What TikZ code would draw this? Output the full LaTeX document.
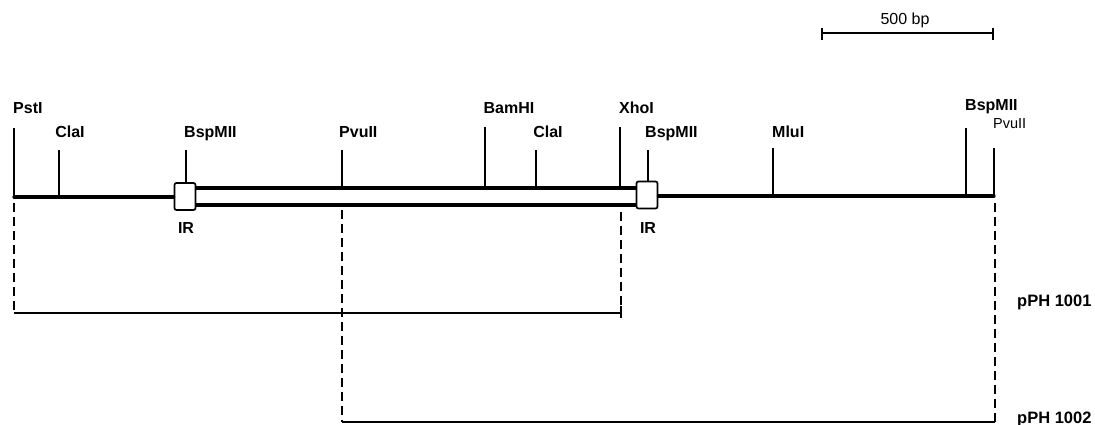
\documentclass[tikz,border=0pt]{standalone}
\usepackage{fontspec}
\setmainfont{Liberation Sans}
\begin{document}
\begin{tikzpicture}[x=1pt,y=-1pt,
  lbl/.style={font=\bfseries\fontsize{16}{18}\selectfont, inner sep=0pt},
  lbllight/.style={font=\fontsize{14.5}{16}\selectfont, inner sep=0pt},
  plbl/.style={font=\bfseries\fontsize{16.5}{18}\selectfont, inner sep=0pt, anchor=base west},
  sitetick/.style={line width=1.5pt},
  dna/.style={line width=3.2pt},
  irbox/.style={draw, line width=1.7pt, rounded corners=2pt, minimum width=21pt, minimum height=27pt, inner sep=0pt, fill=white},
  frag/.style={line width=2.2pt},
  dashline/.style={line width=1.6pt, dash pattern=on 9pt off 5pt},
  scalebar/.style={line width=2.4pt}]
\useasboundingbox (0,0) rectangle (1095,425);

% double strand between IRs
\coordinate (dtl) at (195,188);
\coordinate (dtr) at (637,188);
\coordinate (dbl) at (195,205);
\coordinate (dbr) at (637,205);
\draw[dna] (dtl) -- (dtr);
\draw[dna] (dbl) -- (dbr);

% main line and IR boxes
\coordinate (pstB) at (14,197);
\coordinate (pvuB2) at (994,196);
\node[irbox] (ir1) at (185,196.5) {};
\node[irbox] (ir2) at (647,195) {};
\draw[dna, line cap=round] (pstB) -- (ir1.west |- pstB);
\draw[dna, line cap=round] (ir2.east |- pvuB2) -- (pvuB2);

% site ticks
\coordinate (pstT) at (14,128);
\coordinate (claB) at (59,197);   \coordinate (claT) at (59,150);
\coordinate (bsp1T) at (186,150);
\coordinate (pvuB) at (342,188);  \coordinate (pvuT) at (342,150);
\coordinate (bamB) at (485,188);  \coordinate (bamT) at (485,127);
\coordinate (cla2B) at (536,188); \coordinate (cla2T) at (536,150);
\coordinate (xhoB) at (620,188);  \coordinate (xhoT) at (620,127);
\coordinate (bsp2T) at (648,150);
\coordinate (mluB) at (773,196);  \coordinate (mluT) at (773,148);
\coordinate (bsp3B) at (966,196); \coordinate (bsp3T) at (966,128);
\coordinate (pvu2T) at (994,148);

\draw[sitetick] (pstT) -- (pstB);
\draw[sitetick] (claT) -- (claB);
\draw[sitetick] (bsp1T) -- (ir1.north -| bsp1T);
\draw[sitetick] (pvuT) -- (pvuB);
\draw[sitetick] (bamT) -- (bamB);
\draw[sitetick] (cla2T) -- (cla2B);
\draw[sitetick] (xhoT) -- (xhoB);
\draw[sitetick] (bsp2T) -- (ir2.north -| bsp2T);
\draw[sitetick] (mluT) -- (mluB);
\draw[sitetick] (bsp3T) -- (bsp3B);
\draw[sitetick] (pvu2T) -- (pvuB2);

% site labels
\node[lbl, anchor=base west] (lpst) at (13,114) {PstI};
\node[lbl, anchor=base] (lcla) at (70,138) {ClaI};
\node[lbl, anchor=base west] (lbsp1) at (184,138) {BspMII};
\node[lbl, anchor=base west] (lpvu) at (339,138) {PvuII};
\node[lbl, anchor=base] (lbam) at (509,114) {BamHI};
\node[lbl, anchor=base] (lcla2) at (548,138) {ClaI};
\node[lbl, anchor=base west] (lxho) at (619,114) {XhoI};
\node[lbl, anchor=base west] (lbsp2) at (645,138) {BspMII};
\node[lbl, anchor=base west] (lmlu) at (772,138) {MluI};
\node[lbl, anchor=base west] (lbsp3) at (965,111) {BspMII};
\node[lbllight, anchor=base west] (lpvu2) at (993,129) {PvuII};

% IR labels
\node[lbl, anchor=base] (lir1) at (186,233) {IR};
\node[lbl, anchor=base] (lir2) at (648,233) {IR};

% fragments
\coordinate (f1l) at (14,313);
\coordinate (f1r) at (621,313);
\coordinate (f1t) at (621,306);
\coordinate (f1b) at (621,318);
\coordinate (x1top) at (14,203);
\coordinate (x2top) at (621,212);
\coordinate (f2l) at (342,422);
\coordinate (f2r) at (995,422);
\coordinate (x3top) at (342,210);
\coordinate (x4top) at (995,203);
\draw[dashline] (x1top) -- (f1l);
\draw[dashline] (x2top) -- (f1t);
\draw[dashline] (x3top) -- (f2l);
\draw[dashline] (x4top) -- (f2r);
\draw[frag] (f1l) -- (f1r);
\draw[sitetick] (f1t) -- (f1b);
\draw[frag] (f2l) -- (f2r);

\node[plbl] (p1) at (1017,306) {pPH 1001};
\node[plbl] (p2) at (1017,423) {pPH 1002};

% scale bar
\coordinate (sbl) at (822,33);
\coordinate (sbr) at (993,33);
\coordinate (sblt) at (822,28); \coordinate (sblb) at (822,40);
\coordinate (sbrt) at (993,28); \coordinate (sbrb) at (993,40);
\draw[scalebar] (sbl) -- (sbr);
\draw[sitetick] (sblt) -- (sblb);
\draw[sitetick] (sbrt) -- (sbrb);
\node[font=\fontsize{16}{18}\selectfont, inner sep=0pt, anchor=base] (sbt) at (905,25) {500 bp};
\end{tikzpicture}
\end{document}
